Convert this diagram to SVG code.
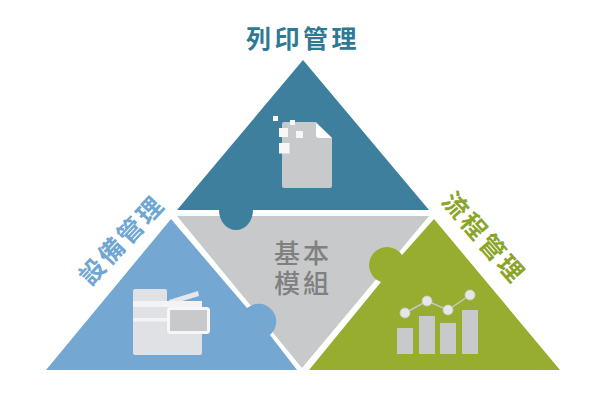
<svg xmlns="http://www.w3.org/2000/svg" width="600" height="400" viewBox="0 0 600 400">
<style>
.t{font-family:"Noto Sans CJK TC","Noto Sans CJK SC",sans-serif;font-weight:700;text-anchor:middle}
.w{fill:#f7f7f8}
.g{fill:#c8c9ca}
.c{fill:#e0e1e5}
</style>
<rect width="600" height="400" fill="#fff"/>
<g id="node-core">
<path d="M177 216H429L302 368Z" fill="#c8c9ca"/>
<text class="t" font-size="26" letter-spacing="3" fill="#7f8080" style="font-weight:500"><tspan x="303" y="263">基本</tspan><tspan x="303" y="293">模組</tspan></text>
</g>
<g id="node-print">
<path d="M303 60L429 210H253A17 20 0 0 1 219 210H177Z" fill="#3d7f9c"/>
<text class="t" x="303" y="48" font-size="25" letter-spacing="3.5" fill="#2f7a93">列印管理</text>
<path d="M284 122H316L332 138V186a2 2 0 0 1-2 2H284a2 2 0 0 1-2-2V124a2 2 0 0 1 2-2Z" class="g"/>
<path d="M316 123L332 138H319a3 3 0 0 1-3-3Z" fill="#fff"/>
<rect class="w" x="273" y="116" width="5" height="5"/>
<rect class="w" x="290" y="120" width="5" height="5"/>
<rect class="w" x="279" y="128" width="9" height="9"/>
<rect class="w" x="296" y="131" width="7" height="7"/>
<rect class="w" x="279" y="143" width="10.500" height="10.500"/>
</g>
<g id="node-device">
<path d="M171 219L247 308A17.500 17.500 0 1 1 270 335L297 370H46Z" fill="#74a7d1"/>
<text class="t" transform="translate(122 240) rotate(-47)" x="0" y="9" font-size="25" letter-spacing="3" fill="#6fa6d2">設備管理</text>
<path d="M169 300L198 291L199 296L169 305Z" fill="#e6e7ea"/>
<path d="M135 289H165a2 2 0 0 1 2 2V301H202V353a2 2 0 0 1-2 2H135a2 2 0 0 1-2-2V291a2 2 0 0 1 2-2Z" class="c"/>
<rect x="133" y="301" width="69" height="6" fill="#f3f3f5"/>
<rect x="133" y="318" width="69" height="3.500" fill="#f3f3f5"/>
<rect x="168.500" y="308.500" width="40" height="24" rx="2" fill="#c8c9ca" stroke="#f7f7f8" stroke-width="3"/>
</g>
<g id="node-flow">
<path d="M434 219L560 370H309L381 282A18 18 0 1 1 402 255Z" fill="#97ad2f"/>
<text class="t" transform="translate(484 238) rotate(49)" x="0" y="9" font-size="25" letter-spacing="3" fill="#8ba52a">流程管理</text>
<rect class="g" x="397" y="328" width="16" height="26"/>
<rect class="g" x="419" y="316" width="16" height="38"/>
<rect class="g" x="440" y="323" width="16" height="31"/>
<rect class="g" x="462" y="310" width="16" height="44"/>
<polyline points="405,313 427,301 448,310 470,295" fill="none" stroke="#c8c9ca" stroke-width="1.500"/>
<g fill="#e6e7e4" stroke="#c8c9ca" stroke-width="0.800">
<circle cx="405" cy="313" r="5"/>
<circle cx="427" cy="301" r="5"/>
<circle cx="448" cy="310" r="5"/>
<circle cx="470" cy="295" r="5"/>
</g>
</g>
<g id="connectors"></g>
</svg>
